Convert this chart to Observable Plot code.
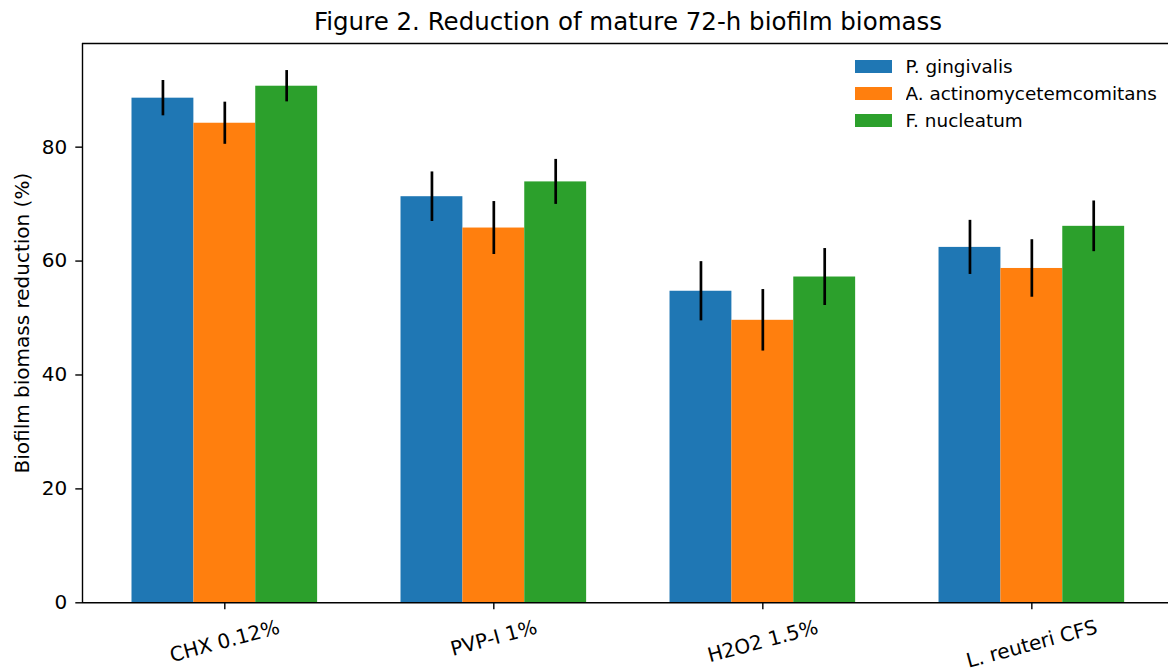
<!DOCTYPE html>
<html>
<head>
<meta charset="utf-8">
<script src="https://cdn.jsdelivr.net/npm/d3@7"></script>
<script src="https://cdn.jsdelivr.net/npm/@observablehq/plot@0.6"></script>
<style>
  html, body { margin: 0; padding: 0; background: #fff; }
  #wrap { position: relative; width: 1168px; height: 670px; overflow: hidden; font-family: "DejaVu Sans", sans-serif; }
  #title { position: absolute; left: 628px; top: 8px; transform: translateX(-50%); font-size: 24.5px; line-height: 28px; white-space: nowrap; color: #000; }
  #legend { position: absolute; left: 855px; top: 53.6px; }
  .lg-swatches { margin: 0 !important; width: 312px; font-family: "DejaVu Sans", sans-serif !important; font-size: 18.4px !important; color: #000; }
  .lg-swatch { height: 26.7px; padding-bottom: 0 !important; display: flex; align-items: center; }
  .lg-swatch > svg { margin-right: 13.5px !important; }
  [aria-label^="y-axis"] path, [aria-label^="x-axis"] path, [aria-label="y-axis"] line, [aria-label="x-axis"] line { stroke-width: 1.4px; }
</style>
</head>
<body>
<div id="wrap">
  <div id="title">Figure 2. Reduction of mature 72-h biofilm biomass</div>
  <div id="chart"></div>
  <div id="legend"></div>
</div>
<script>
const categories = ["CHX 0.12%", "PVP-I 1%", "H2O2 1.5%", "L. reuteri CFS"];
const series = ["P. gingivalis", "A. actinomycetemcomitans", "F. nucleatum"];
const colors = ["#1f77b4", "#ff7f0e", "#2ca02c"];
const pgValues = [88.6, 71.3, 54.7, 62.4];
const pgErrors = [3.1, 4.35, 5.2, 4.75];
const aaValues = [84.2, 65.8, 49.6, 58.7];
const aaErrors = [3.7, 4.65, 5.4, 5.05];
const fnValues = [90.7, 73.9, 57.2, 66.1];
const fnErrors = [2.75, 3.95, 5.0, 4.45];
const yTicks = [0, 20, 40, 60, 80];
const yLabel = "Biofilm biomass reduction (%)";

const barWidth = 0.23;
const valueSets = [pgValues, aaValues, fnValues];
const errorSets = [pgErrors, aaErrors, fnErrors];
const table = [];
categories.forEach((cat, i) => {
  series.forEach((s, j) => {
    table.push({category: cat, series: s, pos: i + (j - 1) * barWidth, value: valueSets[j][i], err: errorSets[j][i]});
  });
});

const xDomain = [-0.529, 3.508];
const yDomain = [0, 98.2];

const ctx = document.createElement("canvas").getContext("2d");
ctx.font = "20px 'DejaVu Sans'";
const sin15 = Math.sin(15 * Math.PI / 180);
const labelMarks = categories.map((c, i) => {
  const w = ctx.measureText(c).width;
  return Plot.text([c], {x: () => i, y: () => 0, text: d => d, rotate: -15, dy: 24.0 + w * sin15 / 2, fontSize: 20, fill: "black", textAnchor: "middle", lineAnchor: "middle"});
});

const chart = Plot.plot({
  width: 1168,
  height: 670,
  marginLeft: 82,
  marginRight: 0,
  marginTop: 43,
  marginBottom: 67.7,
  style: {fontFamily: "DejaVu Sans", fontSize: "20px", background: "white", color: "black", overflow: "visible"},
  x: {domain: xDomain, ticks: [0, 1, 2, 3], tickFormat: () => "", tickSize: 7, label: null},
  y: {domain: yDomain, ticks: yTicks, tickSize: 6.7, tickPadding: 8.5, label: null},
  color: {type: "ordinal", domain: series, range: colors},
  marks: [
    Plot.rect(table, {x1: d => d.pos - barWidth / 2, x2: d => d.pos + barWidth / 2, y1: 0, y2: "value", fill: "series"}),
    Plot.ruleX(table, {x: "pos", y1: d => d.value - d.err, y2: d => d.value + d.err, stroke: "black", strokeWidth: 2.7}),
    Plot.ruleX([xDomain[0]], {y1: yDomain[0], y2: yDomain[1], stroke: "black", strokeWidth: 1.4}),
    Plot.ruleY([yDomain[0], yDomain[1]], {stroke: "black", strokeWidth: 1.4}),
    ...labelMarks,
    Plot.text([yLabel], {frameAnchor: "left", dx: -59.5, rotate: -90, text: d => d, fontSize: 20, fill: "black", textAnchor: "middle", lineAnchor: "middle"})
  ]
});
document.getElementById("chart").appendChild(chart);

const legend = chart.legend("color", {
  legend: "swatches",
  columns: 1,
  swatchWidth: 37,
  swatchHeight: 13,
  className: "lg"
});
document.getElementById("legend").appendChild(legend);
</script>
</body>
</html>
